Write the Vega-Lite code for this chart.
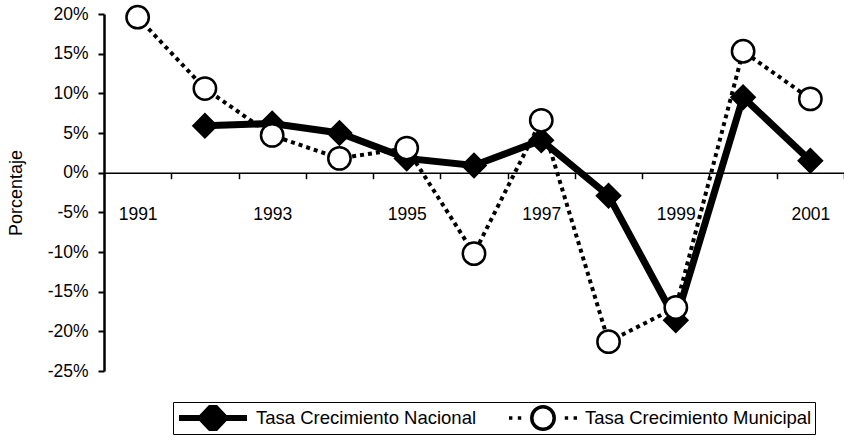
{
  "$schema": "https://vega.github.io/schema/vega-lite/v6.json",
  "width": 740,
  "height": 357,
  "autosize": {"type": "none"},
  "padding": {"left": 104, "top": 14, "right": 0, "bottom": 69},
  "background": "white",
  "config": {
    "view": {"stroke": null},
    "font": "Liberation Sans",
    "axis": {
      "labelColor": "black",
      "tickColor": "black",
      "domainColor": "black",
      "titleColor": "black",
      "labelFont": "Liberation Sans",
      "titleFont": "Liberation Sans",
      "grid": false
    }
  },
  "data": {
    "values": [
      {"anio": 1992, "serie": "Tasa Crecimiento Nacional", "valor": 5.9},
      {"anio": 1993, "serie": "Tasa Crecimiento Nacional", "valor": 6.2},
      {"anio": 1994, "serie": "Tasa Crecimiento Nacional", "valor": 5.0},
      {"anio": 1995, "serie": "Tasa Crecimiento Nacional", "valor": 1.8},
      {"anio": 1996, "serie": "Tasa Crecimiento Nacional", "valor": 0.9},
      {"anio": 1997, "serie": "Tasa Crecimiento Nacional", "valor": 4.1},
      {"anio": 1998, "serie": "Tasa Crecimiento Nacional", "valor": -2.9},
      {"anio": 1999, "serie": "Tasa Crecimiento Nacional", "valor": -18.6},
      {"anio": 2000, "serie": "Tasa Crecimiento Nacional", "valor": 9.5},
      {"anio": 2001, "serie": "Tasa Crecimiento Nacional", "valor": 1.5},
      {"anio": 1991, "serie": "Tasa Crecimiento Municipal", "valor": 19.6},
      {"anio": 1992, "serie": "Tasa Crecimiento Municipal", "valor": 10.6},
      {"anio": 1993, "serie": "Tasa Crecimiento Municipal", "valor": 4.7},
      {"anio": 1994, "serie": "Tasa Crecimiento Municipal", "valor": 1.8},
      {"anio": 1995, "serie": "Tasa Crecimiento Municipal", "valor": 3.1},
      {"anio": 1996, "serie": "Tasa Crecimiento Municipal", "valor": -10.2},
      {"anio": 1997, "serie": "Tasa Crecimiento Municipal", "valor": 6.6},
      {"anio": 1998, "serie": "Tasa Crecimiento Municipal", "valor": -21.3},
      {"anio": 1999, "serie": "Tasa Crecimiento Municipal", "valor": -17.0},
      {"anio": 2000, "serie": "Tasa Crecimiento Municipal", "valor": 15.3},
      {"anio": 2001, "serie": "Tasa Crecimiento Municipal", "valor": 9.3}
    ]
  },
  "encoding": {
    "x": {
      "field": "anio",
      "type": "ordinal",
      "scale": {"type": "band", "paddingInner": 0, "paddingOuter": 0},
      "axis": {
        "title": null,
        "orient": "bottom",
        "offset": -198.3,
        "labelAngle": 0,
        "labelOverlap": false,
        "labelExpr": "datum.value % 2 == 1 ? datum.label : ''",
        "labelFontSize": 17.5,
        "labelPadding": 27,
        "tickBand": "extent",
        "tickSize": 6,
        "tickWidth": 1.5,
        "domainWidth": 1.5
      }
    },
    "y": {
      "field": "valor",
      "type": "quantitative",
      "scale": {"domain": [-25, 20], "nice": false, "zero": false},
      "axis": {
        "title": "Porcentaje",
        "values": [-25, -20, -15, -10, -5, 0, 5, 10, 15, 20],
        "labelExpr": "datum.value + '%'",
        "labelFontSize": 17.5,
        "labelPadding": 10,
        "tickSize": 6,
        "tickWidth": 2,
        "domainWidth": 2.5,
        "titleFontSize": 18,
        "titleFontWeight": "normal",
        "titlePadding": 22
      }
    }
  },
  "layer": [
    {
      "transform": [{"filter": "datum.serie === 'Tasa Crecimiento Nacional'"}],
      "mark": {"type": "line", "stroke": "black", "strokeWidth": 7},
      "encoding": {}
    },
    {
      "transform": [{"filter": "datum.serie === 'Tasa Crecimiento Nacional'"}],
      "mark": {"type": "point", "shape": "diamond", "filled": true, "fill": "black", "stroke": "black", "strokeWidth": 2, "opacity": 1, "size": 560}
    },
    {
      "transform": [{"filter": "datum.serie === 'Tasa Crecimiento Municipal'"}],
      "mark": {"type": "line", "stroke": "black", "strokeWidth": 4, "strokeDash": [4, 4]},
      "encoding": {}
    },
    {
      "transform": [{"filter": "datum.serie === 'Tasa Crecimiento Municipal'"}],
      "mark": {"type": "point", "shape": "circle", "filled": true, "fill": "white", "stroke": "black", "strokeWidth": 2.5, "opacity": 1, "size": 500}
    },
    {
      "mark": {"type": "point", "filled": true, "opacity": 0, "size": 1},
      "encoding": {
        "shape": {
          "field": "serie",
          "scale": {
            "domain": ["Tasa Crecimiento Nacional", "Tasa Crecimiento Municipal"],
            "range": [
              "M-1,0L1,0M0,-0.38L0.36,0L0,0.38L-0.36,0Z",
              "M-1,0L-0.9,0M-0.74,0L-0.64,0M0.64,0L0.74,0M0.9,0L1,0M0.33,0A0.33,0.33,0,1,1,-0.33,0A0.33,0.33,0,1,1,0.33,0Z"
            ]
          },
          "legend": {
            "title": null,
            "orient": "none",
            "legendX": 69,
            "legendY": 388,
            "direction": "horizontal",
            "clipHeight": 26,
            "padding": 3,
            "columnPadding": 30,
            "labelOffset": 6,
            "labelFontSize": 18.5,
            "labelLimit": 400,
            "labelFont": "Liberation Sans",
            "labelColor": "black",
            "symbolSize": 4624,
            "symbolOpacity": 1,
            "strokeColor": "black"
          }
        },
        "fill": {
          "field": "serie",
          "scale": {"domain": ["Tasa Crecimiento Nacional", "Tasa Crecimiento Municipal"], "range": ["black", "white"]}
        },
        "stroke": {
          "field": "serie",
          "scale": {"domain": ["Tasa Crecimiento Nacional", "Tasa Crecimiento Municipal"], "range": ["black", "black"]}
        },
        "strokeWidth": {
          "field": "serie",
          "scale": {"domain": ["Tasa Crecimiento Nacional", "Tasa Crecimiento Municipal"], "range": [6, 3.5]}
        }
      }
    }
  ]
}
